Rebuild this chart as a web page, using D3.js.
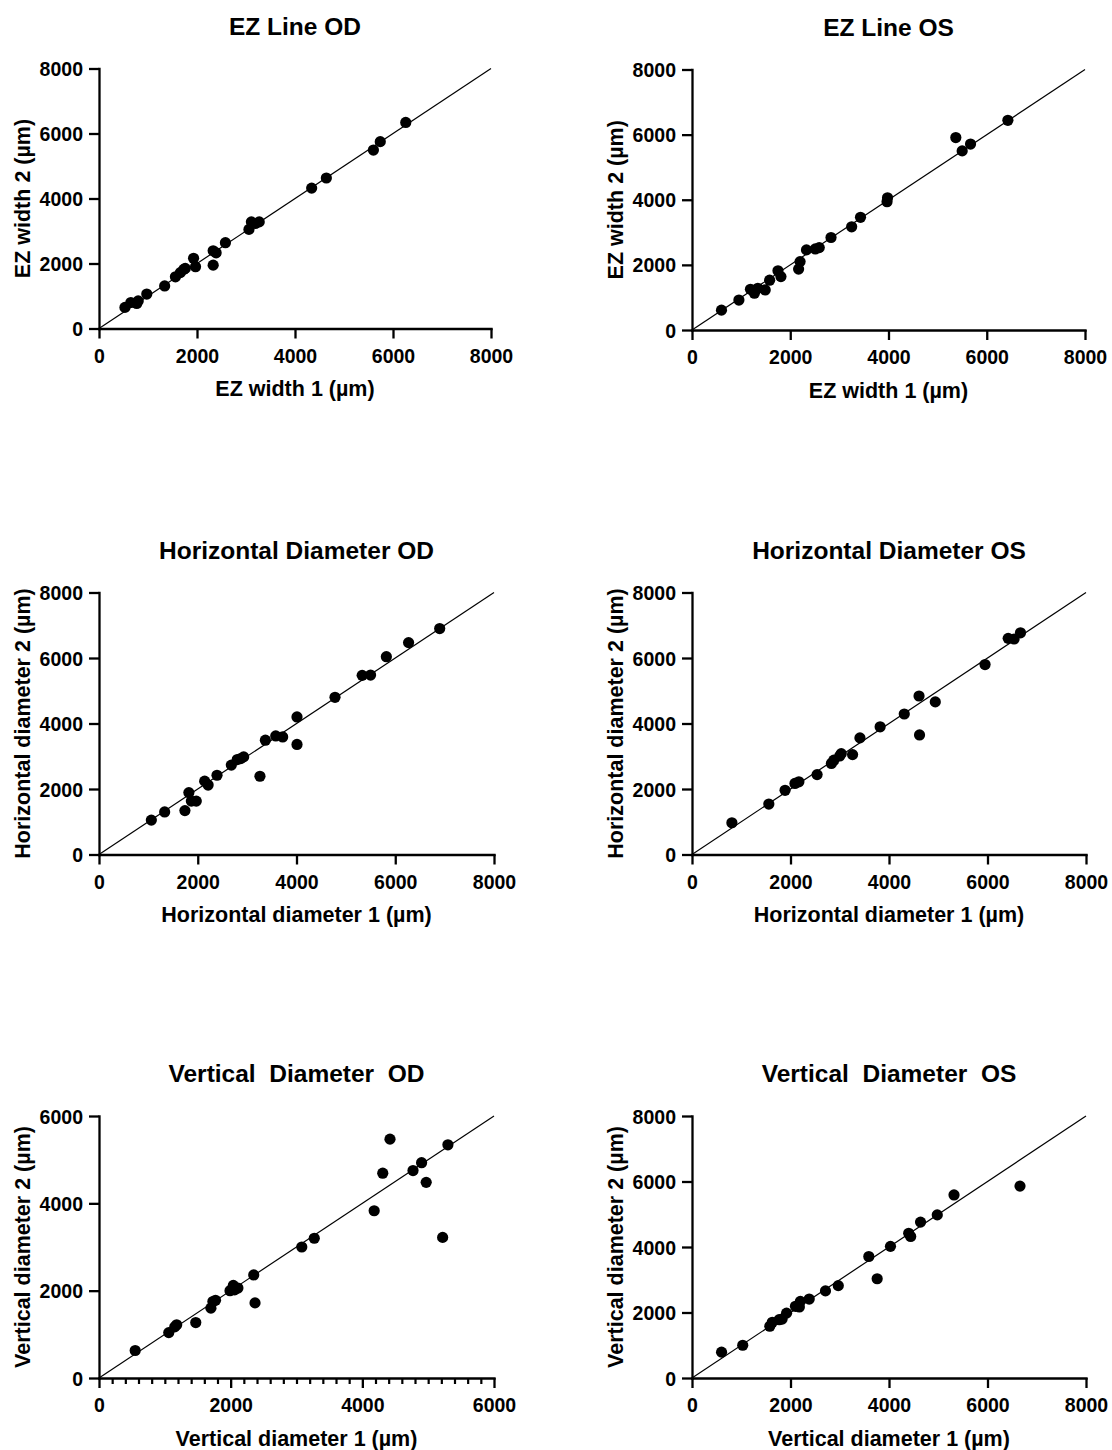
<!DOCTYPE html>
<html>
<head>
<meta charset="utf-8">
<script src="https://cdn.jsdelivr.net/npm/d3@7"></script>
<style>
body { margin: 0; background: #fff; }
text { font-family: Arial, "Liberation Sans", sans-serif; font-weight: bold; fill: #000; }
.tick text { font-size: 19.5px; }
.axis-title { font-size: 21.5px; }
.panel-title { font-size: 24.5px; white-space: pre; }
</style>
</head>
<body>
<svg width="1112" height="1450"></svg>
<script>
// values (µm)
var ezOdX = [530, 650, 770, 800, 975, 1340, 1560, 1660, 1730, 1760, 1930, 1970, 2330, 2330, 2390, 2580, 3060, 3110, 3190, 3270, 4340, 4640, 5600, 5740, 6260];
var ezOdY = [650, 800, 770, 850, 1060, 1310, 1590, 1720, 1820, 1850, 2160, 1900, 1950, 2390, 2330, 2640, 3050, 3280, 3230, 3280, 4320, 4630, 5490, 5750, 6340];

var ezOsX = [600, 955, 1190, 1270, 1340, 1490, 1580, 1750, 1810, 2170, 2200, 2330, 2510, 2590, 2830, 3250, 3430, 3970, 3980, 5370, 5500, 5670, 6430];
var ezOsY = [610, 920, 1250, 1130, 1280, 1230, 1530, 1820, 1640, 1870, 2100, 2460, 2490, 2530, 2840, 3170, 3460, 3940, 4060, 5910, 5500, 5710, 6440];

var hOdX = [1060, 1330, 1740, 1820, 1870, 1970, 2140, 2210, 2390, 2680, 2800, 2870, 2930, 3260, 3370, 3580, 3720, 4010, 4010, 4780, 5330, 5500, 5820, 6270, 6900];
var hOdY = [1050, 1300, 1340, 1890, 1630, 1630, 2240, 2120, 2420, 2730, 2900, 2930, 2980, 2390, 3490, 3620, 3590, 4200, 3360, 4800, 5470, 5480, 6040, 6470, 6900];

var hOsX = [810, 1560, 1890, 2090, 2170, 2540, 2830, 2880, 3000, 3030, 3260, 3410, 3820, 4310, 4610, 4620, 4940, 5950, 6420, 6540, 6670];
var hOsY = [970, 1540, 1960, 2170, 2220, 2440, 2780, 2880, 3010, 3080, 3050, 3560, 3900, 4290, 4840, 3650, 4660, 5800, 6600, 6580, 6770];

var vOdX = [550, 1060, 1150, 1180, 1470, 1700, 1730, 1770, 1990, 2040, 2060, 2110, 2350, 2370, 3080, 3270, 4180, 4310, 4420, 4770, 4900, 4970, 5220, 5300];
var vOdY = [630, 1040, 1170, 1220, 1270, 1600, 1750, 1780, 2000, 2120, 2020, 2060, 2360, 1720, 3000, 3200, 3830, 4690, 5470, 4750, 4930, 4480, 3220, 5340];

var vOsX = [600, 1030, 1580, 1630, 1770, 1830, 1920, 2100, 2180, 2200, 2380, 2710, 2970, 3590, 3760, 4030, 4400, 4440, 4640, 4980, 5320, 6660];
var vOsY = [790, 1000, 1580, 1700, 1780, 1800, 1980, 2190, 2170, 2340, 2410, 2660, 2820, 3710, 3030, 4020, 4420, 4320, 4760, 4980, 5590, 5860];

var ticks8000 = [0, 2000, 4000, 6000, 8000];
var ticks6000 = [0, 2000, 4000, 6000];

var titles = ["EZ Line OD", "EZ Line OS", "Horizontal Diameter OD", "Horizontal Diameter OS", "Vertical  Diameter  OD", "Vertical  Diameter  OS"];
var xTitles = ["EZ width 1 (µm)", "EZ width 1 (µm)", "Horizontal diameter 1 (µm)", "Horizontal diameter 1 (µm)", "Vertical diameter 1 (µm)", "Vertical diameter 1 (µm)"];
var yTitles = ["EZ width 2 (µm)", "EZ width 2 (µm)", "Horizontal diameter 2 (µm)", "Horizontal diameter 2 (µm)", "Vertical diameter 2 (µm)", "Vertical diameter 2 (µm)"];

// panel layout
var panels = [
    { xs: ezOdX, ys: ezOdY, max: 8000, ticks: ticks8000, left: 99, right: 491, top: 68.5, bottom: 328.5 },
    { xs: ezOsX, ys: ezOsY, max: 8000, ticks: ticks8000, left: 692, right: 1085, top: 69.5, bottom: 330 },
    { xs: hOdX, ys: hOdY, max: 8000, ticks: ticks8000, left: 99, right: 494, top: 592.5, bottom: 854.5 },
    { xs: hOsX, ys: hOsY, max: 8000, ticks: ticks8000, left: 692, right: 1086, top: 592.5, bottom: 854.5 },
    { xs: vOdX, ys: vOdY, max: 6000, ticks: ticks6000, left: 99, right: 494, top: 1116, bottom: 1378, minor: 200 },
    { xs: vOsX, ys: vOsY, max: 8000, ticks: ticks8000, left: 692, right: 1086, top: 1116, bottom: 1378 }
];

var svg = d3.select("svg");

panels.forEach(function(p, i) {
    var x = d3.scaleLinear().domain([0, p.max]).range([p.left, p.right]);
    var y = d3.scaleLinear().domain([0, p.max]).range([p.bottom, p.top]);
    var g = svg.append("g");

    // line of identity
    g.append("line")
        .attr("x1", x(0)).attr("y1", y(0))
        .attr("x2", x(p.max)).attr("y2", y(p.max))
        .attr("stroke", "#000")
        .attr("stroke-width", 1.2);

    // minor ticks (only the vertical OD panel has them)
    if (p.minor) {
        var minorVals = d3.range(0, p.max + 1, p.minor).filter(function(v) { return v % 2000 !== 0; });
        g.append("g")
            .attr("transform", "translate(0," + p.bottom + ")")
            .call(d3.axisBottom(x).tickValues(minorVals).tickSize(6).tickFormat(""))
            .call(function(a) { a.select(".domain").remove(); })
            .selectAll("line").attr("stroke-width", 2.2);
    }

    var xAxis = g.append("g")
        .attr("transform", "translate(0," + p.bottom + ")")
        .call(d3.axisBottom(x).tickValues(p.ticks).tickFormat(d3.format("d")).tickSize(10).tickSizeOuter(0));
    xAxis.selectAll("text").attr("dy", null).attr("y", 34);

    var yAxis = g.append("g")
        .attr("transform", "translate(" + p.left + ",0)")
        .call(d3.axisLeft(y).tickValues(p.ticks).tickFormat(d3.format("d")).tickSize(10).tickSizeOuter(0));
    yAxis.selectAll("text").attr("x", -16).attr("dy", "0.36em");

    [xAxis, yAxis].forEach(function(a) {
        a.attr("font-size", null).attr("font-family", null);
        a.selectAll("line").attr("stroke-width", 2.3);
        a.select(".domain").attr("stroke-width", 2.3).attr("stroke-linecap", "square");
    });

    // points
    g.append("g").selectAll("circle")
        .data(p.xs.map(function(v, j) { return [v, p.ys[j]]; }))
        .enter().append("circle")
            .attr("cx", function(d) { return x(d[0]); })
            .attr("cy", function(d) { return y(d[1]); })
            .attr("r", 5.6)
            .attr("fill", "#000");

    var midX = (p.left + p.right) / 2;

    g.append("text")
        .attr("class", "panel-title")
        .attr("xml:space", "preserve")
        .attr("x", midX)
        .attr("y", p.top - 34)
        .attr("text-anchor", "middle")
        .text(titles[i]);

    g.append("text")
        .attr("class", "axis-title")
        .attr("x", midX)
        .attr("y", p.bottom + 67.5)
        .attr("text-anchor", "middle")
        .text(xTitles[i]);

    g.append("text")
        .attr("class", "axis-title")
        .attr("transform", "translate(" + (p.left - 69) + "," + ((p.top + p.bottom) / 2) + ") rotate(-90)")
        .attr("text-anchor", "middle")
        .text(yTitles[i]);
});
</script>
</body>
</html>
